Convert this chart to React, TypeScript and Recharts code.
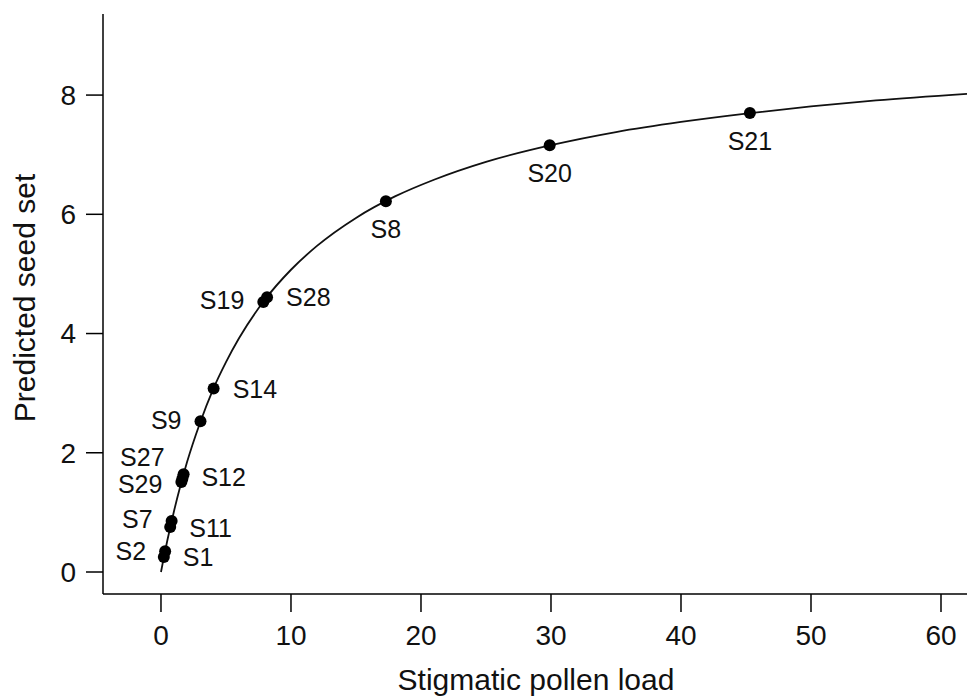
import React from 'react';
import { ScatterChart, Scatter, XAxis, YAxis, Label } from 'recharts';

// Sampled species/sites with predicted seed set
const sampleNames = ['S1', 'S2', 'S11', 'S7', 'S29', 'S12', 'S27', 'S9', 'S14', 'S19', 'S28', 'S8', 'S20', 'S21'];
const pollenLoad = [0.22, 0.32, 0.71, 0.82, 1.57, 1.65, 1.74, 3.04, 4.05, 7.87, 8.16, 17.3, 29.9, 45.3];
const seedSet = [0.25, 0.35, 0.755, 0.855, 1.51, 1.57, 1.64, 2.53, 3.08, 4.53, 4.61, 6.22, 7.16, 7.7];

// Fitted curve
const curveLoad = [0, 0.25, 0.5, 1, 1.5, 2, 3, 4, 5, 6, 8, 10, 12, 15, 18, 21, 25, 30, 35, 40, 45, 50, 55, 62];
const curveSeed = [0, 0.28, 0.54, 1.02, 1.45, 1.84, 2.5, 3.06, 3.52, 3.92, 4.57, 5.07, 5.47, 5.94, 6.3, 6.58, 6.88, 7.16, 7.38, 7.55, 7.69, 7.81, 7.91, 8.02];

const xTicks = [0, 10, 20, 30, 40, 50, 60];
const yTicks = [0, 2, 4, 6, 8];

const xTitle = 'Stigmatic pollen load';
const yTitle = 'Predicted seed set';

// label placement (layout only)
const labelLayout: Record<string, { side: 'left' | 'right' | 'below'; dy: number }> = {
  S1: { side: 'right', dy: 0 },
  S2: { side: 'left', dy: 0 },
  S11: { side: 'right', dy: 1 },
  S7: { side: 'left', dy: -2 },
  S29: { side: 'left', dy: 2 },
  S12: { side: 'right', dy: -1 },
  S27: { side: 'left', dy: -17 },
  S9: { side: 'left', dy: -1 },
  S14: { side: 'right', dy: 1 },
  S19: { side: 'left', dy: -2 },
  S28: { side: 'right', dy: 0 },
  S8: { side: 'below', dy: 28 },
  S20: { side: 'below', dy: 28 },
  S21: { side: 'below', dy: 28 },
};

const points = sampleNames.map((name, i) => ({ name, x: pollenLoad[i], y: seedSet[i] }));
const curve = curveLoad.map((x, i) => ({ x, y: curveSeed[i] }));

const FONT = '"Liberation Sans", Arial, Helvetica, sans-serif';
const LABEL_SIZE = 25;

const DotWithLabel = (props: any) => {
  const { cx, cy, payload } = props;
  if (cx == null || cy == null) return null;
  const lay = labelLayout[payload.name] || { side: 'right', dy: 0 };
  let tx = cx;
  let anchor: 'start' | 'end' | 'middle' = 'middle';
  if (lay.side === 'right') {
    tx = cx + 19;
    anchor = 'start';
  } else if (lay.side === 'left') {
    tx = cx - 19;
    anchor = 'end';
  }
  const ty = cy + lay.dy + LABEL_SIZE * 0.358;
  return (
    <g>
      <circle cx={cx} cy={cy} r={6} fill="#000" />
      <text x={tx} y={ty} textAnchor={anchor} fontSize={LABEL_SIZE} fontFamily={FONT} fill="#111">
        {payload.name}
      </text>
    </g>
  );
};

const NoDot = () => <g />;

export default function App() {
  return (
    <div style={{ position: 'absolute', left: 0, top: 0, width: 967, height: 697, background: '#fff' }}>
      <ScatterChart
        width={967}
        height={697}
        margin={{ top: 14, right: 0, bottom: 0, left: 0 }}
        style={{ fontFamily: FONT }}
      >
        <XAxis
          type="number"
          dataKey="x"
          domain={[-4.46, 62]}
          ticks={xTicks}
          interval={0}
          allowDataOverflow
          height={103}
          tickSize={18}
          tickMargin={13}
          axisLine={{ stroke: '#000', strokeWidth: 1.5 }}
          tickLine={{ stroke: '#000', strokeWidth: 1.5 }}
          tick={{ fill: '#111', fontSize: 28, fontFamily: FONT }}
        >
          <Label
            content={(p: any) => {
              const vb = p.viewBox || { x: 103, y: 594, width: 864, height: 103 };
              return (
                <text
                  x={vb.x + vb.width / 2 + 1}
                  y={vb.y + 96}
                  textAnchor="middle"
                  fontSize={30}
                  fontFamily={FONT}
                  fill="#111"
                >
                  {xTitle}
                </text>
              );
            }}
          />
        </XAxis>
        <YAxis
          type="number"
          dataKey="y"
          domain={[-0.369, 9.36]}
          ticks={yTicks}
          interval={0}
          allowDataOverflow
          width={103}
          tickSize={17}
          tickMargin={10}
          axisLine={{ stroke: '#000', strokeWidth: 1.5 }}
          tickLine={{ stroke: '#000', strokeWidth: 1.5 }}
          tick={{ fill: '#111', fontSize: 28, fontFamily: FONT }}
        >
          <Label
            content={(p: any) => {
              const vb = p.viewBox || { x: 0, y: 14, width: 103, height: 580 };
              const tx = vb.x + 35;
              const ty = vb.y + vb.height / 2 - 6;
              return (
                <text
                  x={tx}
                  y={ty}
                  transform={`rotate(-90, ${tx}, ${ty})`}
                  textAnchor="middle"
                  fontSize={30}
                  fontFamily={FONT}
                  fill="#111"
                >
                  {yTitle}
                </text>
              );
            }}
          />
        </YAxis>
        <Scatter
          data={curve}
          line={{ stroke: '#111', strokeWidth: 1.8 }}
          lineJointType="monotoneX"
          shape={NoDot}
          isAnimationActive={false}
          legendType="none"
        />
        <Scatter data={points} shape={DotWithLabel} isAnimationActive={false} legendType="none" />
      </ScatterChart>
    </div>
  );
}
